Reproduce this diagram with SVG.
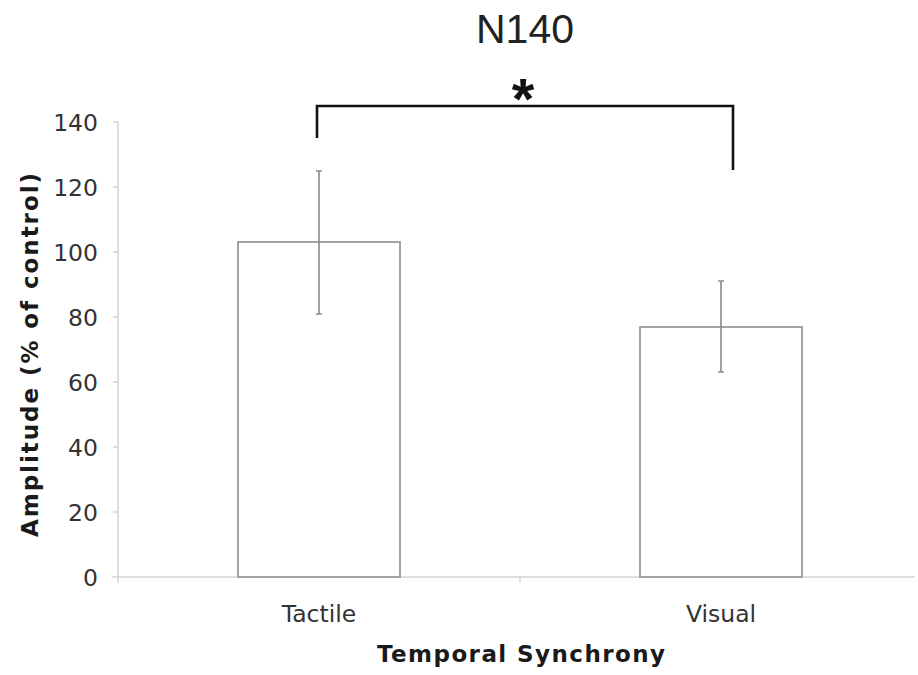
<svg xmlns="http://www.w3.org/2000/svg" width="918" height="675" viewBox="0 0 918 675">
<style>
.axis{stroke:#d4d4d4;stroke-width:1.5;fill:none}
.bar{fill:#fff;stroke:#9a9a9a;stroke-width:1.8}
.err{stroke:#8a8a8a;stroke-width:1.6;fill:none}
.brk{stroke:#111;stroke-width:2.6;fill:none}
.tick{font-family:"DejaVu Sans",Verdana,sans-serif;font-size:23.5px;fill:#333;text-anchor:end}
.cat{font-family:"DejaVu Sans",Verdana,sans-serif;font-size:23.5px;fill:#333;text-anchor:middle}
.lab{font-family:"DejaVu Sans",Verdana,sans-serif;font-size:23px;font-weight:bold;fill:#1a1a1a;text-anchor:middle}
</style>
<rect width="918" height="675" fill="#fff"/>
<text x="525" y="43" font-family="'Liberation Sans',Arial,sans-serif" font-size="41" fill="#222" text-anchor="middle">N140</text>
<g id="axes">
<line class="axis" x1="118" y1="122" x2="118" y2="577"/>
<line class="axis" x1="112" y1="577" x2="915" y2="577"/>
<g class="axis">
<line x1="113" y1="122" x2="118" y2="122"/><line x1="113" y1="187" x2="118" y2="187"/>
<line x1="113" y1="252" x2="118" y2="252"/><line x1="113" y1="317" x2="118" y2="317"/>
<line x1="113" y1="382" x2="118" y2="382"/><line x1="113" y1="447" x2="118" y2="447"/>
<line x1="113" y1="512" x2="118" y2="512"/>
<line x1="118" y1="577" x2="118" y2="583"/><line x1="520" y1="577" x2="520" y2="583"/>
</g>
<text class="tick" x="98" y="131">140</text>
<text class="tick" x="98" y="196">120</text>
<text class="tick" x="98" y="261">100</text>
<text class="tick" x="98" y="326">80</text>
<text class="tick" x="98" y="391">60</text>
<text class="tick" x="98" y="456">40</text>
<text class="tick" x="98" y="521">20</text>
<text class="tick" x="98" y="586">0</text>
<text class="lab" transform="translate(38,355) rotate(-90)" textLength="364" lengthAdjust="spacing">Amplitude (% of control)</text>
<text class="cat" x="319" y="622">Tactile</text>
<text class="cat" x="721" y="622">Visual</text>
<text class="lab" x="521" y="662" font-size="24" textLength="288" lengthAdjust="spacing">Temporal Synchrony</text>
</g>
<g id="tactile">
<rect class="bar" x="238" y="242" width="162" height="335"/>
<path class="err" d="M319 171V314M316 171H322M316 314H322"/>
</g>
<g id="visual">
<rect class="bar" x="640" y="327" width="162" height="250"/>
<path class="err" d="M721 281V372M718 281H724M718 372H724"/>
</g>
<g id="connectors">
<path class="brk" d="M317 138V106H733V170"/>
<text x="523" y="119" font-family="'Liberation Sans',Arial,sans-serif" font-weight="bold" font-size="58" fill="#111" text-anchor="middle">*</text>
</g>
</svg>
